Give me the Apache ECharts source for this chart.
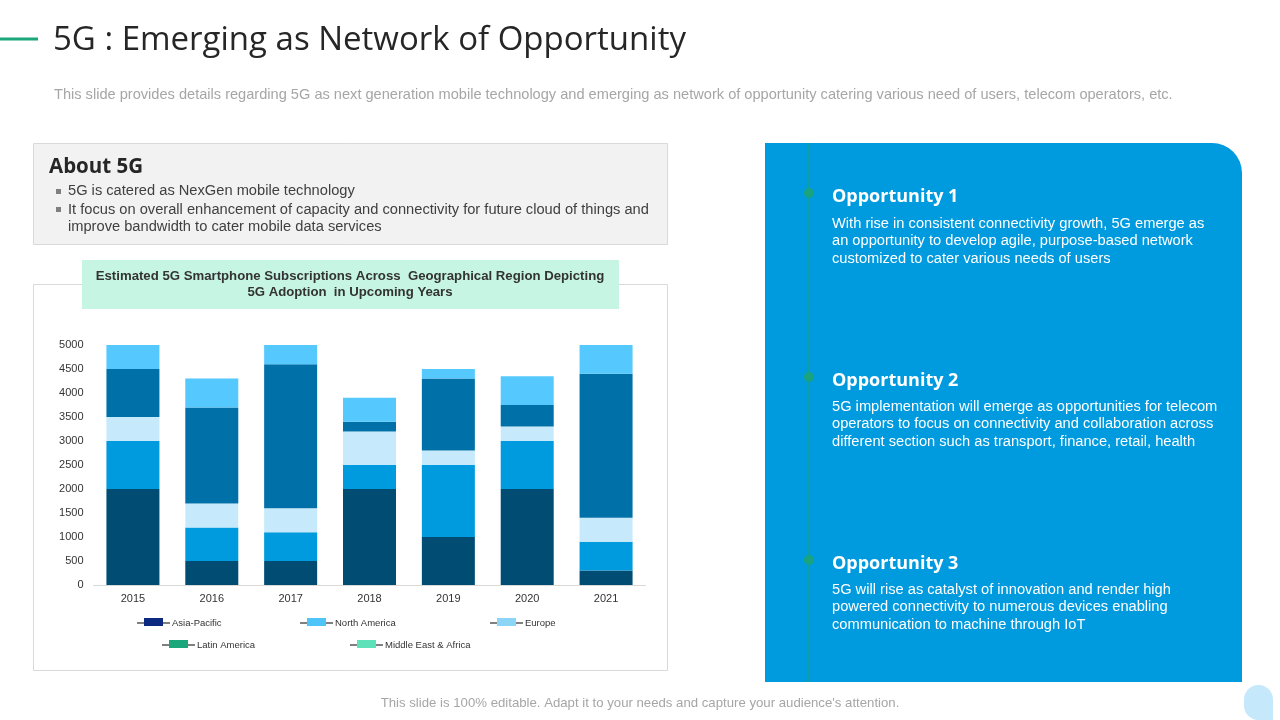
<!DOCTYPE html>
<html>
<head>
<meta charset="utf-8">
<script src="https://cdn.jsdelivr.net/npm/echarts@6/dist/echarts.min.js"></script>
<style>
html,body{margin:0;padding:0;background:#fff;}
#main{width:1280px;height:720px;}
</style>
</head>
<body>
<div id="main"></div>
<script>
// ---- data ----
const years = ['2015', '2016', '2017', '2018', '2019', '2020', '2021'];
const seriesNames = ['Asia-Pacific', 'North America', 'Europe', 'Latin America', 'Middle East & Africa'];
const asiaPacific      = [2000, 500, 500, 2000, 1000, 2000, 300];
const northAmerica     = [1000, 700, 600, 500, 1500, 1000, 600];
const europe           = [500, 500, 500, 700, 300, 300, 500];
const latinAmerica     = [1000, 2000, 3000, 200, 1500, 450, 3000];
const middleEastAfrica = [500, 600, 400, 500, 200, 600, 600];
const yTicks = [0, 500, 1000, 1500, 2000, 2500, 3000, 3500, 4000, 4500, 5000];

// ---- styles ----
const barColors = ['#004c73', '#009ade', '#c6eafb', '#0071a8', '#55c8fe'];
const legendColors = ['#0c2a80', '#4fc4f8', '#8cd5f7', '#1ba67c', '#5ee0b8'];
const legendPos = [
  {left: 137, top: 618}, {left: 300, top: 618}, {left: 490, top: 618},
  {left: 162, top: 640}, {left: 350, top: 640}
];
const values = [asiaPacific, northAmerica, europe, latinAmerica, middleEastAfrica];

const chart = echarts.init(document.getElementById('main'));

const legends = [];
seriesNames.forEach((n, i) => {
  legends.push({
    left: legendPos[i].left, top: legendPos[i].top, padding: 0,
    icon: 'path://M0,0H33V2H0Z', itemWidth: 33, itemHeight: 2, itemGap: 0,
    selectedMode: false,
    textStyle: {fontSize: 9.5, color: '#333', fontFamily: 'Liberation Sans', padding: [0, 0, 0, -3]},
    data: [{name: n, itemStyle: {color: '#808080'}}]
  });
  legends.push({
    left: legendPos[i].left + 7, top: legendPos[i].top, padding: 0,
    icon: 'rect', itemWidth: 19, itemHeight: 8,
    selectedMode: false,
    formatter: () => '',
    textStyle: {fontSize: 9.5, color: '#333', fontFamily: 'Liberation Sans'},
    data: [{name: n, itemStyle: {color: legendColors[i]}}]
  });
});

const bodyFont = 'Liberation Sans';
const bodySize = '14.67px ';
const graphics = [
  // header accent
  {type: 'rect', shape: {x: 0, y: 37.5, width: 38, height: 3}, style: {fill: '#1ba67c'}},
  {type: 'text', left: 53, top: 24, style: {text: '5G : Emerging as Network of Opportunity', font: '33px "Open Sans"', fill: '#262626'}},
  {type: 'text', left: 54, top: 87, style: {text: 'This slide provides details regarding 5G as next generation mobile technology and emerging as network of opportunity catering various need of users, telecom operators, etc.', font: '14.6px ' + bodyFont, fill: '#a6a6a6'}},
  // about box
  {type: 'rect', shape: {x: 33.5, y: 143.5, width: 634, height: 101}, style: {fill: '#f2f2f2', stroke: '#d9d9d9', lineWidth: 1}},
  {type: 'text', left: 49, top: 157, style: {text: 'About 5G', font: 'bold 20.5px "Open Sans"', fill: '#262626'}},
  {type: 'rect', shape: {x: 56, y: 189, width: 5, height: 5}, style: {fill: '#7f7f7f'}},
  {type: 'rect', shape: {x: 56, y: 207, width: 5, height: 5}, style: {fill: '#7f7f7f'}},
  {type: 'text', left: 68, top: 183, style: {text: '5G is catered as NexGen mobile technology', font: bodySize + bodyFont, fill: '#404040'}},
  {type: 'text', left: 68, top: 201, style: {text: 'It focus on overall enhancement of capacity and connectivity for future cloud of things and\nimprove bandwidth to cater mobile data services', font: bodySize + bodyFont, fill: '#404040', lineHeight: 17.5}},
  // chart box
  {type: 'rect', z: -10, shape: {x: 33.5, y: 284.5, width: 634, height: 386}, style: {fill: '#fff', stroke: '#d9d9d9', lineWidth: 1}},
  {type: 'rect', shape: {x: 82, y: 260, width: 537, height: 49}, style: {fill: '#c6f5e4'}},
  {type: 'text', x: 350, y: 284, style: {text: 'Estimated 5G Smartphone Subscriptions Across  Geographical Region Depicting\n5G Adoption  in Upcoming Years', font: 'bold 13.2px "Liberation Sans Narrow", "Liberation Sans"', fill: '#333', align: 'center', verticalAlign: 'middle', lineHeight: 16}},
  // right panel
  {type: 'rect', shape: {x: 765, y: 143, width: 477, height: 539, r: [0, 30, 0, 0]}, style: {fill: '#009ade'}},
  {type: 'line', shape: {x1: 809, y1: 143, x2: 809, y2: 682}, style: {stroke: '#1aa37f', lineWidth: 1.5, opacity: 0.8}},
  {type: 'circle', shape: {cx: 809, cy: 193, r: 5}, style: {fill: '#1aa37f'}},
  {type: 'circle', shape: {cx: 809, cy: 377, r: 5}, style: {fill: '#1aa37f'}},
  {type: 'circle', shape: {cx: 809, cy: 560, r: 5}, style: {fill: '#1aa37f'}},
  {type: 'text', left: 832, top: 188, style: {text: 'Opportunity 1', font: 'bold 18px "Open Sans"', fill: '#fff'}},
  {type: 'text', left: 832, top: 215, style: {text: 'With rise in consistent connectivity growth, 5G emerge as\nan opportunity to develop agile, purpose-based network\ncustomized to cater various needs of users', font: bodySize + bodyFont, fill: '#fff', lineHeight: 17.5}},
  {type: 'text', left: 832, top: 372, style: {text: 'Opportunity 2', font: 'bold 18px "Open Sans"', fill: '#fff'}},
  {type: 'text', left: 832, top: 398, style: {text: '5G implementation will emerge as opportunities for telecom\noperators to focus on connectivity and collaboration across\ndifferent section such as transport, finance, retail, health', font: bodySize + bodyFont, fill: '#fff', lineHeight: 17.5}},
  {type: 'text', left: 832, top: 555, style: {text: 'Opportunity 3', font: 'bold 18px "Open Sans"', fill: '#fff'}},
  {type: 'text', left: 832, top: 581, style: {text: '5G will rise as catalyst of innovation and render high\npowered connectivity to numerous devices enabling\ncommunication to machine through IoT', font: bodySize + bodyFont, fill: '#fff', lineHeight: 17.5}},
  // footer
  {type: 'text', x: 640, y: 703, style: {text: 'This slide is 100% editable. Adapt it to your needs and capture your audience\'s attention.', font: '13.2px ' + bodyFont, fill: '#a6a6a6', align: 'center', verticalAlign: 'middle'}},
  {type: 'rect', shape: {x: 1244, y: 685, width: 29, height: 35, r: [14.5, 14.5, 0, 14.5]}, style: {fill: '#c5e9fb'}}
];

chart.setOption({
  animation: false,
  backgroundColor: '#fff',
  graphic: graphics,
  legend: legends,
  grid: {left: 93.5, right: 634.5, top: 345, bottom: 135, containLabel: false},
  xAxis: {
    type: 'category', data: years,
    axisLine: {lineStyle: {color: '#d9d9d9'}},
    axisTick: {show: false},
    axisLabel: {color: '#333', fontSize: 11, fontFamily: bodyFont, margin: 8}
  },
  yAxis: {
    type: 'value', min: yTicks[0], max: yTicks[yTicks.length - 1], interval: 500,
    splitLine: {show: false},
    axisLine: {show: false}, axisTick: {show: false},
    axisLabel: {color: '#333', fontSize: 11, fontFamily: bodyFont, margin: 10, formatter: v => String(v)}
  },
  series: seriesNames.map((n, i) => ({
    name: n, type: 'bar', stack: 'total', barWidth: 53,
    itemStyle: {color: barColors[i]},
    data: values[i]
  }))
});
</script>
</body>
</html>
